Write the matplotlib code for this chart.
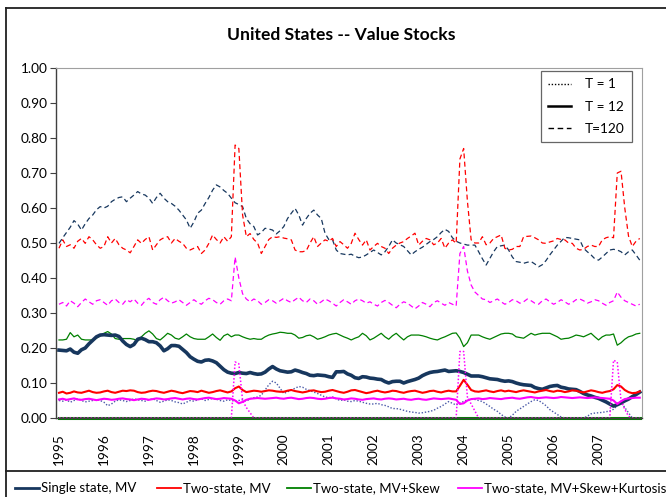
import matplotlib
matplotlib.use("Agg")
import matplotlib.pyplot as plt
from matplotlib.lines import Line2D
import numpy as np

# ---------------- data (monthly, Jan 1995 - Dec 2007) ----------------
years = ["1995", "1996", "1997", "1998", "1999", "2000", "2001",
         "2002", "2003", "2004", "2005", "2006", "2007"]

single_12 = [
    0.194, 0.193, 0.192, 0.197, 0.188, 0.185, 0.195, 0.200, 0.212, 0.222, 0.232, 0.237,
    0.238, 0.237, 0.236, 0.237, 0.233, 0.220, 0.210, 0.204, 0.210, 0.225, 0.228, 0.224,
    0.218, 0.218, 0.215, 0.206, 0.192, 0.198, 0.207, 0.207, 0.205, 0.196, 0.187, 0.175,
    0.168, 0.162, 0.160, 0.165, 0.166, 0.163, 0.158, 0.148, 0.138, 0.131, 0.128, 0.127,
    0.130, 0.128, 0.127, 0.130, 0.127, 0.125, 0.126, 0.131, 0.140, 0.147, 0.140, 0.135,
    0.133, 0.131, 0.132, 0.137, 0.134, 0.130, 0.127, 0.122, 0.121, 0.123, 0.122, 0.121,
    0.118, 0.116, 0.132, 0.132, 0.133, 0.126, 0.122, 0.115, 0.113, 0.118, 0.117, 0.114,
    0.113, 0.111, 0.110, 0.104, 0.100, 0.104, 0.105, 0.105, 0.100, 0.104, 0.107, 0.110,
    0.114, 0.121, 0.126, 0.130, 0.132, 0.133, 0.135, 0.137, 0.133, 0.134, 0.135, 0.133,
    0.130, 0.125, 0.120, 0.120, 0.120, 0.118, 0.115, 0.112, 0.111, 0.110, 0.107, 0.105,
    0.106, 0.104, 0.100, 0.097, 0.095, 0.094, 0.093, 0.087, 0.084, 0.082, 0.086, 0.090,
    0.092, 0.093, 0.088, 0.086, 0.083, 0.082, 0.081, 0.076, 0.070, 0.066, 0.063, 0.059,
    0.056, 0.051, 0.046, 0.040, 0.034, 0.038, 0.043, 0.049, 0.054, 0.061, 0.067, 0.074,
]

single_120 = [
    0.499, 0.515, 0.530, 0.545, 0.564, 0.554, 0.537, 0.555, 0.570, 0.580, 0.595, 0.604,
    0.600, 0.605, 0.618, 0.625, 0.630, 0.632, 0.618, 0.628, 0.637, 0.647, 0.640, 0.637,
    0.628, 0.613, 0.630, 0.642, 0.628, 0.618, 0.613, 0.605, 0.594, 0.580, 0.566, 0.542,
    0.560, 0.585, 0.594, 0.613, 0.630, 0.651, 0.666, 0.660, 0.650, 0.642, 0.628, 0.615,
    0.610, 0.604, 0.570, 0.555, 0.547, 0.523, 0.530, 0.542, 0.540, 0.537, 0.526, 0.535,
    0.547, 0.570, 0.585, 0.599, 0.580, 0.551, 0.570, 0.585, 0.594, 0.580, 0.570, 0.528,
    0.510, 0.509, 0.480, 0.470, 0.468, 0.466, 0.468, 0.462, 0.458, 0.460, 0.466, 0.473,
    0.480, 0.473, 0.466, 0.475, 0.490, 0.509, 0.500, 0.495, 0.490, 0.478, 0.466, 0.475,
    0.482, 0.488, 0.496, 0.504, 0.510, 0.518, 0.530, 0.539, 0.533, 0.515, 0.505, 0.500,
    0.497, 0.494, 0.494, 0.494, 0.475, 0.455, 0.437, 0.456, 0.475, 0.490, 0.492, 0.494,
    0.480, 0.460, 0.447, 0.445, 0.442, 0.445, 0.447, 0.440, 0.432, 0.438, 0.450, 0.466,
    0.480, 0.494, 0.505, 0.516, 0.515, 0.513, 0.511, 0.509, 0.485, 0.475, 0.466, 0.455,
    0.451, 0.460, 0.470, 0.480, 0.482, 0.480, 0.475, 0.466, 0.475, 0.480, 0.466, 0.451,
]

single_1 = [
    0.050, 0.048, 0.052, 0.045, 0.050, 0.055, 0.050, 0.046, 0.048, 0.050, 0.053, 0.050,
    0.045, 0.035, 0.040, 0.048, 0.052, 0.050, 0.047, 0.050, 0.055, 0.052, 0.050, 0.048,
    0.052, 0.055, 0.050, 0.045, 0.048, 0.052, 0.050, 0.046, 0.044, 0.040, 0.045, 0.050,
    0.048, 0.052, 0.055, 0.050, 0.053, 0.056, 0.054, 0.050, 0.048, 0.052, 0.050, 0.048,
    0.050, 0.052, 0.048, 0.055, 0.058, 0.060, 0.065, 0.080, 0.095, 0.105, 0.100, 0.085,
    0.070, 0.075, 0.080, 0.085, 0.090, 0.088, 0.082, 0.078, 0.074, 0.070, 0.065, 0.060,
    0.058, 0.060, 0.055, 0.050, 0.052, 0.048, 0.047, 0.050, 0.048, 0.045, 0.042, 0.040,
    0.040, 0.042, 0.038, 0.036, 0.032, 0.027, 0.027, 0.025, 0.022, 0.019, 0.017, 0.016,
    0.014, 0.015, 0.017, 0.019, 0.022, 0.028, 0.033, 0.040, 0.047, 0.042, 0.037, 0.043,
    0.047, 0.052, 0.055, 0.053, 0.050, 0.047, 0.040, 0.033, 0.025, 0.019, 0.010, 0.003,
    0.000, 0.008, 0.019, 0.026, 0.033, 0.040, 0.047, 0.052, 0.050, 0.043, 0.035, 0.024,
    0.017, 0.010, 0.003, 0.000, 0.000, 0.000, 0.000, 0.000, 0.000, 0.005, 0.012, 0.014,
    0.015, 0.016, 0.018, 0.020, 0.025, 0.035, 0.045, 0.030, 0.015, 0.000, 0.000, 0.000,
]

two_mv_120 = [
    0.485, 0.509, 0.490, 0.495, 0.485, 0.505, 0.513, 0.499, 0.518, 0.509, 0.495, 0.485,
    0.490, 0.518, 0.500, 0.513, 0.495, 0.485, 0.480, 0.472, 0.490, 0.509, 0.499, 0.510,
    0.518, 0.480, 0.495, 0.509, 0.515, 0.518, 0.500, 0.513, 0.505, 0.499, 0.485, 0.480,
    0.485, 0.490, 0.470, 0.480, 0.499, 0.523, 0.510, 0.500, 0.518, 0.505, 0.518, 0.780,
    0.770, 0.580, 0.518, 0.527, 0.510, 0.500, 0.470, 0.490, 0.510, 0.518, 0.516, 0.518,
    0.514, 0.512, 0.509, 0.480, 0.475, 0.475, 0.478, 0.500, 0.518, 0.490, 0.500, 0.509,
    0.505, 0.513, 0.490, 0.504, 0.495, 0.485, 0.499, 0.528, 0.510, 0.494, 0.509, 0.480,
    0.490, 0.499, 0.490, 0.485, 0.470, 0.485, 0.494, 0.500, 0.504, 0.513, 0.520, 0.528,
    0.494, 0.505, 0.513, 0.509, 0.495, 0.500, 0.513, 0.485, 0.500, 0.509, 0.499, 0.740,
    0.770, 0.620, 0.509, 0.500, 0.500, 0.518, 0.495, 0.500, 0.513, 0.518, 0.523, 0.485,
    0.480, 0.482, 0.490, 0.490, 0.518, 0.519, 0.520, 0.515, 0.509, 0.500, 0.499, 0.503,
    0.506, 0.513, 0.510, 0.509, 0.500, 0.499, 0.485, 0.480, 0.482, 0.490, 0.494, 0.490,
    0.490, 0.509, 0.515, 0.518, 0.515, 0.700, 0.705, 0.600, 0.520, 0.490, 0.505, 0.513,
]

two_mv_12 = [
    0.072, 0.075, 0.070, 0.072, 0.076, 0.073, 0.072, 0.075, 0.078, 0.074, 0.072, 0.073,
    0.076, 0.078, 0.074, 0.072, 0.075, 0.078, 0.077, 0.079, 0.078, 0.074, 0.072, 0.073,
    0.076, 0.078, 0.077, 0.074, 0.072, 0.075, 0.078, 0.076, 0.073, 0.071, 0.074, 0.077,
    0.076, 0.074, 0.078, 0.075, 0.072, 0.074, 0.077, 0.079, 0.076, 0.073, 0.076, 0.085,
    0.090, 0.080, 0.074, 0.076, 0.078, 0.077, 0.075, 0.077, 0.079, 0.078, 0.076, 0.075,
    0.075, 0.078, 0.080, 0.077, 0.075, 0.073, 0.075, 0.078, 0.079, 0.076, 0.074, 0.075,
    0.078, 0.080, 0.077, 0.074, 0.072, 0.075, 0.079, 0.080, 0.077, 0.074, 0.071, 0.073,
    0.076, 0.078, 0.075, 0.073, 0.075, 0.078, 0.077, 0.074, 0.072, 0.075, 0.077, 0.078,
    0.075, 0.072, 0.074, 0.077, 0.078, 0.075, 0.073, 0.076, 0.078, 0.076, 0.076, 0.092,
    0.109, 0.095, 0.080, 0.076, 0.075, 0.077, 0.079, 0.076, 0.074, 0.077, 0.079, 0.076,
    0.078, 0.076, 0.074, 0.077, 0.079, 0.077, 0.075, 0.073, 0.076, 0.078, 0.080, 0.077,
    0.075, 0.078, 0.077, 0.074, 0.076, 0.079, 0.078, 0.075, 0.073, 0.076, 0.079, 0.077,
    0.074, 0.072, 0.075, 0.077, 0.082, 0.094, 0.090, 0.080, 0.074, 0.071, 0.072, 0.076,
]

two_mv_1 = [
    0.0, 0.0, 0.0, 0.0, 0.0, 0.0, 0.0, 0.0, 0.0, 0.0, 0.0, 0.0,
    0.0, 0.0, 0.0, 0.0, 0.0, 0.0, 0.0, 0.0, 0.0, 0.0, 0.0, 0.0,
    0.0, 0.0, 0.0, 0.0, 0.0, 0.0, 0.0, 0.0, 0.0, 0.0, 0.0, 0.0,
    0.0, 0.0, 0.0, 0.0, 0.0, 0.0, 0.0, 0.0, 0.0, 0.0, 0.0, 0.0,
    0.0, 0.0, 0.0, 0.0, 0.0, 0.0, 0.0, 0.0, 0.0, 0.0, 0.0, 0.0,
    0.0, 0.0, 0.0, 0.0, 0.0, 0.0, 0.0, 0.0, 0.0, 0.0, 0.0, 0.0,
    0.0, 0.0, 0.0, 0.0, 0.0, 0.0, 0.0, 0.0, 0.0, 0.0, 0.0, 0.0,
    0.0, 0.0, 0.0, 0.0, 0.0, 0.0, 0.0, 0.0, 0.0, 0.0, 0.0, 0.0,
    0.0, 0.0, 0.0, 0.0, 0.0, 0.0, 0.0, 0.0, 0.0, 0.0, 0.0, 0.0,
    0.0, 0.0, 0.0, 0.0, 0.0, 0.0, 0.0, 0.0, 0.0, 0.0, 0.0, 0.0,
    0.0, 0.0, 0.0, 0.0, 0.0, 0.0, 0.0, 0.0, 0.0, 0.0, 0.0, 0.0,
    0.0, 0.0, 0.0, 0.0, 0.0, 0.0, 0.0, 0.0, 0.0, 0.0, 0.0, 0.0,
    0.0, 0.0, 0.0, 0.0, 0.0, 0.0, 0.0, 0.0, 0.0, 0.0, 0.0, 0.0,
]

two_sk_120 = [
    0.223, 0.223, 0.225, 0.244, 0.232, 0.237, 0.225, 0.223, 0.223, 0.223, 0.228, 0.235,
    0.242, 0.247, 0.240, 0.227, 0.225, 0.227, 0.227, 0.227, 0.225, 0.220, 0.232, 0.242,
    0.249, 0.240, 0.227, 0.223, 0.232, 0.242, 0.237, 0.228, 0.225, 0.232, 0.240, 0.232,
    0.227, 0.225, 0.225, 0.225, 0.232, 0.240, 0.230, 0.222, 0.235, 0.240, 0.232, 0.237,
    0.237, 0.232, 0.228, 0.225, 0.227, 0.225, 0.225, 0.232, 0.237, 0.240, 0.242, 0.245,
    0.244, 0.242, 0.242, 0.237, 0.228, 0.230, 0.235, 0.237, 0.232, 0.225, 0.228, 0.232,
    0.237, 0.240, 0.242, 0.237, 0.232, 0.228, 0.223, 0.228, 0.232, 0.242, 0.235, 0.223,
    0.228, 0.235, 0.242, 0.232, 0.225, 0.235, 0.242, 0.232, 0.223, 0.232, 0.237, 0.237,
    0.237, 0.235, 0.232, 0.228, 0.225, 0.223, 0.228, 0.232, 0.237, 0.242, 0.243, 0.228,
    0.204, 0.215, 0.237, 0.237, 0.237, 0.232, 0.228, 0.225, 0.230, 0.235, 0.240, 0.242,
    0.242, 0.240, 0.232, 0.230, 0.228, 0.235, 0.242, 0.237, 0.240, 0.242, 0.242, 0.242,
    0.237, 0.232, 0.225, 0.227, 0.228, 0.232, 0.237, 0.235, 0.232, 0.237, 0.242, 0.232,
    0.223, 0.232, 0.237, 0.237, 0.240, 0.208, 0.215, 0.225, 0.232, 0.235, 0.240, 0.242,
]

two_sk_12 = list(two_mv_1)   # read as 0.00 throughout
two_sk_1 = list(two_mv_1)    # read as 0.00 throughout

two_kt_120 = [
    0.325, 0.330, 0.320, 0.335, 0.328, 0.318, 0.330, 0.340, 0.332, 0.325, 0.335, 0.338,
    0.330, 0.322, 0.335, 0.340, 0.330, 0.325, 0.338, 0.332, 0.340, 0.328, 0.322, 0.335,
    0.342, 0.330, 0.325, 0.338, 0.345, 0.335, 0.328, 0.332, 0.338, 0.330, 0.322, 0.330,
    0.338, 0.330, 0.325, 0.335, 0.342, 0.338, 0.330, 0.325, 0.335, 0.340, 0.335, 0.460,
    0.400, 0.355, 0.340, 0.332, 0.340, 0.335, 0.325, 0.330, 0.338, 0.335, 0.328, 0.335,
    0.342, 0.335, 0.330, 0.338, 0.345, 0.335, 0.330, 0.340, 0.335, 0.325, 0.332, 0.340,
    0.335, 0.328, 0.320, 0.330, 0.338, 0.332, 0.325, 0.335, 0.340, 0.335, 0.328, 0.332,
    0.325, 0.320, 0.330, 0.336, 0.330, 0.322, 0.315, 0.325, 0.332, 0.328, 0.320, 0.312,
    0.320, 0.330, 0.325, 0.318, 0.330, 0.335, 0.328, 0.322, 0.330, 0.325, 0.320, 0.470,
    0.490, 0.420, 0.380, 0.360, 0.350, 0.340, 0.338, 0.330, 0.335, 0.340, 0.332, 0.325,
    0.330, 0.338, 0.335, 0.328, 0.332, 0.340, 0.335, 0.328, 0.325, 0.335, 0.340, 0.332,
    0.325, 0.330, 0.338, 0.332, 0.325, 0.330, 0.338, 0.340, 0.335, 0.328, 0.332, 0.338,
    0.335, 0.328, 0.322, 0.330, 0.335, 0.360, 0.345, 0.335, 0.330, 0.325, 0.320, 0.325,
]

two_kt_12 = [
    0.053, 0.055, 0.052, 0.054, 0.056, 0.053, 0.052, 0.054, 0.055, 0.053, 0.051, 0.053,
    0.055, 0.054, 0.052, 0.053, 0.055, 0.056, 0.054, 0.053, 0.051, 0.053, 0.055, 0.054,
    0.052, 0.054, 0.056, 0.055, 0.053, 0.054, 0.056, 0.057, 0.055, 0.053, 0.055, 0.056,
    0.054, 0.053, 0.055, 0.057, 0.058, 0.056, 0.054, 0.055, 0.057, 0.056, 0.055, 0.050,
    0.042, 0.046, 0.052, 0.055, 0.056, 0.057, 0.056, 0.055, 0.056, 0.057, 0.058, 0.056,
    0.055, 0.057, 0.058, 0.056, 0.054, 0.055, 0.057, 0.058, 0.057, 0.055, 0.054, 0.055,
    0.057, 0.058, 0.056, 0.055, 0.053, 0.054, 0.056, 0.055, 0.053, 0.052, 0.054, 0.055,
    0.056, 0.054, 0.053, 0.055, 0.056, 0.055, 0.053, 0.054, 0.055, 0.053, 0.052, 0.054,
    0.055, 0.053, 0.052, 0.054, 0.056, 0.055, 0.054, 0.055, 0.056, 0.054, 0.052, 0.040,
    0.042, 0.050, 0.054, 0.055, 0.056, 0.054, 0.055, 0.057, 0.056, 0.055, 0.054, 0.056,
    0.057, 0.058, 0.056, 0.055, 0.057, 0.059, 0.060, 0.058, 0.057, 0.058, 0.059, 0.058,
    0.057, 0.058, 0.060, 0.059, 0.058, 0.057, 0.058, 0.059, 0.058, 0.057, 0.058, 0.059,
    0.058, 0.057, 0.056, 0.055, 0.050, 0.040, 0.048, 0.054, 0.056, 0.057, 0.058, 0.058,
]

two_kt_1 = [
    0.0, 0.0, 0.0, 0.0, 0.0, 0.0, 0.0, 0.0, 0.0, 0.0, 0.0, 0.0,
    0.0, 0.0, 0.0, 0.0, 0.0, 0.0, 0.0, 0.0, 0.0, 0.0, 0.0, 0.0,
    0.0, 0.0, 0.0, 0.0, 0.0, 0.0, 0.0, 0.0, 0.0, 0.0, 0.0, 0.0,
    0.0, 0.0, 0.0, 0.0, 0.0, 0.0, 0.0, 0.0, 0.0, 0.0, 0.0, 0.160,
    0.155, 0.050, 0.030, 0.015, 0.0, 0.0, 0.0, 0.0, 0.0, 0.0, 0.0, 0.0,
    0.0, 0.0, 0.0, 0.0, 0.0, 0.0, 0.0, 0.0, 0.0, 0.0, 0.0, 0.0,
    0.0, 0.0, 0.0, 0.0, 0.0, 0.0, 0.0, 0.0, 0.0, 0.0, 0.0, 0.0,
    0.0, 0.0, 0.0, 0.0, 0.0, 0.0, 0.0, 0.0, 0.0, 0.0, 0.0, 0.0,
    0.0, 0.0, 0.0, 0.0, 0.0, 0.0, 0.0, 0.0, 0.0, 0.0, 0.0, 0.190,
    0.190, 0.060, 0.040, 0.020, 0.0, 0.0, 0.0, 0.0, 0.0, 0.0, 0.0, 0.0,
    0.0, 0.0, 0.0, 0.0, 0.0, 0.0, 0.0, 0.0, 0.0, 0.0, 0.0, 0.0,
    0.0, 0.0, 0.0, 0.0, 0.0, 0.0, 0.0, 0.0, 0.0, 0.0, 0.0, 0.0,
    0.0, 0.0, 0.0, 0.0, 0.165, 0.160, 0.050, 0.025, 0.005, 0.0, 0.0, 0.0,
]

model_names = ["Single state, MV", "Two-state, MV", "Two-state, MV+Skew",
               "Two-state, MV+Skew+Kurtosis"]
horizon_names = ["T = 1", "T = 12", "T=120"]

# ---------------- styling ----------------
FONT = ["Lato", "DejaVu Sans"]
plt.rcParams["font.family"] = FONT
NAVY = "#17375E"
NAVY_DOT = "#4A5AA8"
RED = "#FF0000"
GREEN = "#008000"
MAG = "#FF00FF"
TXT = "#000000"

DOT = (0, (1.0, 1.3))
DASH = (0, (4.0, 2.6))

W, H = 666, 497
fig = plt.figure(figsize=(W / 100, H / 100), dpi=100)
ax = fig.add_axes([56 / W, 1 - 418 / H, (642 - 56) / W, (418 - 68) / H])

x = np.arange(len(single_12))

# T = 120 (dashed, thin)
ax.plot(x, single_120, color=NAVY, lw=0.9, linestyle=DASH)
ax.plot(x, two_mv_120, color=RED, lw=0.9, linestyle=DASH)
ax.plot(x, two_sk_120, color=GREEN, lw=0.9)
ax.plot(x, two_kt_120, color=MAG, lw=0.9, linestyle=DASH)

# T = 1 (dotted)
ax.plot(x, single_1, color=NAVY_DOT, lw=1.0, linestyle=DOT)
ax.plot(x, two_mv_1, color=RED, lw=1.0, linestyle=DOT)
ax.plot(x, two_sk_1, color=GREEN, lw=1.0, linestyle=DOT)

# T = 12 (solid)
ax.plot(x, single_12, color=NAVY, lw=2.6, solid_joinstyle="round")
ax.plot(x, two_mv_12, color=RED, lw=1.5)
ax.plot(x, two_kt_12, color=MAG, lw=1.5)
ax.plot(x, two_sk_12, color=GREEN, lw=2.2, clip_on=False)
ax.plot(x, two_kt_1, color=MAG, lw=1.1, linestyle=DOT, clip_on=False)

ax.set_xlim(-0.8, 155.6)
ax.set_ylim(0, 1.0)
yt = np.arange(0, 1.001, 0.1)
ax.set_yticks(yt)
ax.set_yticklabels([f"{v:.2f}" for v in yt], fontsize=9.8, color=TXT)
ax.set_xticks(np.arange(0, len(x), 12))
ax.set_xticklabels(years, rotation=90, fontsize=9.8, color=TXT)
ax.tick_params(axis="x", length=0, pad=11)
ax.tick_params(axis="y", direction="out", length=4, width=0.8, color="#404040", pad=2)

for s in ["top", "right"]:
    ax.spines[s].set_color("#A0A0A0")
    ax.spines[s].set_linewidth(0.8)
for s in ["left", "bottom"]:
    ax.spines[s].set_color("#404040")
    ax.spines[s].set_linewidth(1.0)

# horizon legend (black lines)
h_handles = [Line2D([], [], color="black", lw=1.0, linestyle=DOT),
             Line2D([], [], color="black", lw=1.8),
             Line2D([], [], color="black", lw=1.0, linestyle=DASH)]
leg = ax.legend(h_handles, horizon_names, loc="upper right",
                bbox_to_anchor=((632 - 56) / 586, (418 - 71) / 350),
                fontsize=9.8, frameon=True, fancybox=False, handlelength=1.7,
                handletextpad=1.0, borderpad=0.55, labelspacing=0.75,
                borderaxespad=0.0)
leg.get_frame().set_edgecolor("#404040")
leg.get_frame().set_linewidth(0.9)

# title
fig.text(341 / W, 1 - 35 / H, "United States -- Value Stocks", ha="center",
         va="center", fontsize=12.6, fontweight="bold", color=TXT)

# outer frame lines
fig.add_artist(Line2D([6 / W, 6 / W], [0, 1 - 8 / H], transform=fig.transFigure,
                      color="#202020", lw=1.3))
fig.add_artist(Line2D([6 / W, 1], [1 - 8 / H, 1 - 8 / H], transform=fig.transFigure,
                      color="#202020", lw=1.3))
fig.add_artist(Line2D([6 / W, 1], [1 - 471 / H, 1 - 471 / H], transform=fig.transFigure,
                      color="#202020", lw=1.3))

# model legend at bottom (placed entry by entry)
m_colors = [NAVY, RED, GREEN, MAG]
m_lw = [2.0, 1.3, 1.3, 1.3]
line_x0 = [15, 157, 287, 458]
ly = 1 - 488 / H
for name, c, w, x0 in zip(model_names, m_colors, m_lw, line_x0):
    fig.add_artist(Line2D([x0 / W, (x0 + 24) / W], [ly, ly], transform=fig.transFigure,
                          color=c, lw=w))
    fig.text((x0 + 26) / W, ly, name, ha="left", va="center", fontsize=9.5,
             color=TXT)

fig.savefig("out.png", dpi=100)
